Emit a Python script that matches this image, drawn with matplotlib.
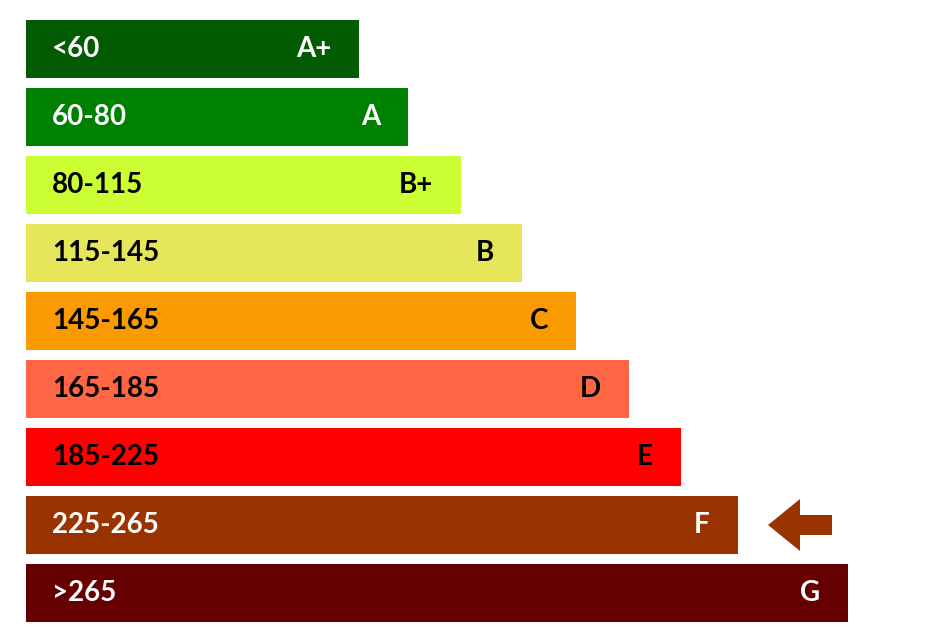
import matplotlib
matplotlib.use('Agg')
import matplotlib.pyplot as plt
from matplotlib.patches import FancyArrow

# Energy classes, top to bottom
ranges = ['<60', '60-80', '80-115', '115-145', '145-165', '165-185', '185-225', '225-265', '>265']
grades = ['A+', 'A', 'B+', 'B', 'C', 'D', 'E', 'F', 'G']
lengths = [333, 382, 435, 496, 550, 603, 655, 712, 822]
colors = ['#035c03', '#008000', '#ccff33', '#e6e65a', '#fb9a00',
          '#ff6644', '#ff0000', '#993300', '#660000']
text_colors = ['white', 'white', 'black', 'black', 'black',
               'black', 'black', 'white', 'white']
current = 'F'

fig = plt.figure(figsize=(9.42, 6.38), dpi=100)
ax = fig.add_axes([0, 0, 1, 1])
ax.set_xlim(0, 942)
ax.set_ylim(638, 0)
ax.axis('off')

x0 = 26
ys = [49 + i * 68 for i in range(len(ranges))]
ax.barh(ys, lengths, left=x0, height=58, color=colors)

for y, r, g, L, tc in zip(ys, ranges, grades, lengths, text_colors):
    ax.text(52, y, r, color=tc, fontsize=20, fontweight='bold',
            family='Lato', ha='left', va='center')
    ax.text(x0 + L - 28, y, g, color=tc, fontsize=20, fontweight='bold',
            family='Lato', ha='right', va='center')

# arrow pointing to the current class
yi = ys[grades.index(current)]
ax.add_patch(FancyArrow(832, yi, -64, 0, width=20, head_width=52,
                        head_length=32, length_includes_head=True,
                        color=colors[grades.index(current)], lw=0))

fig.savefig('out.png', dpi=100, facecolor='white')
